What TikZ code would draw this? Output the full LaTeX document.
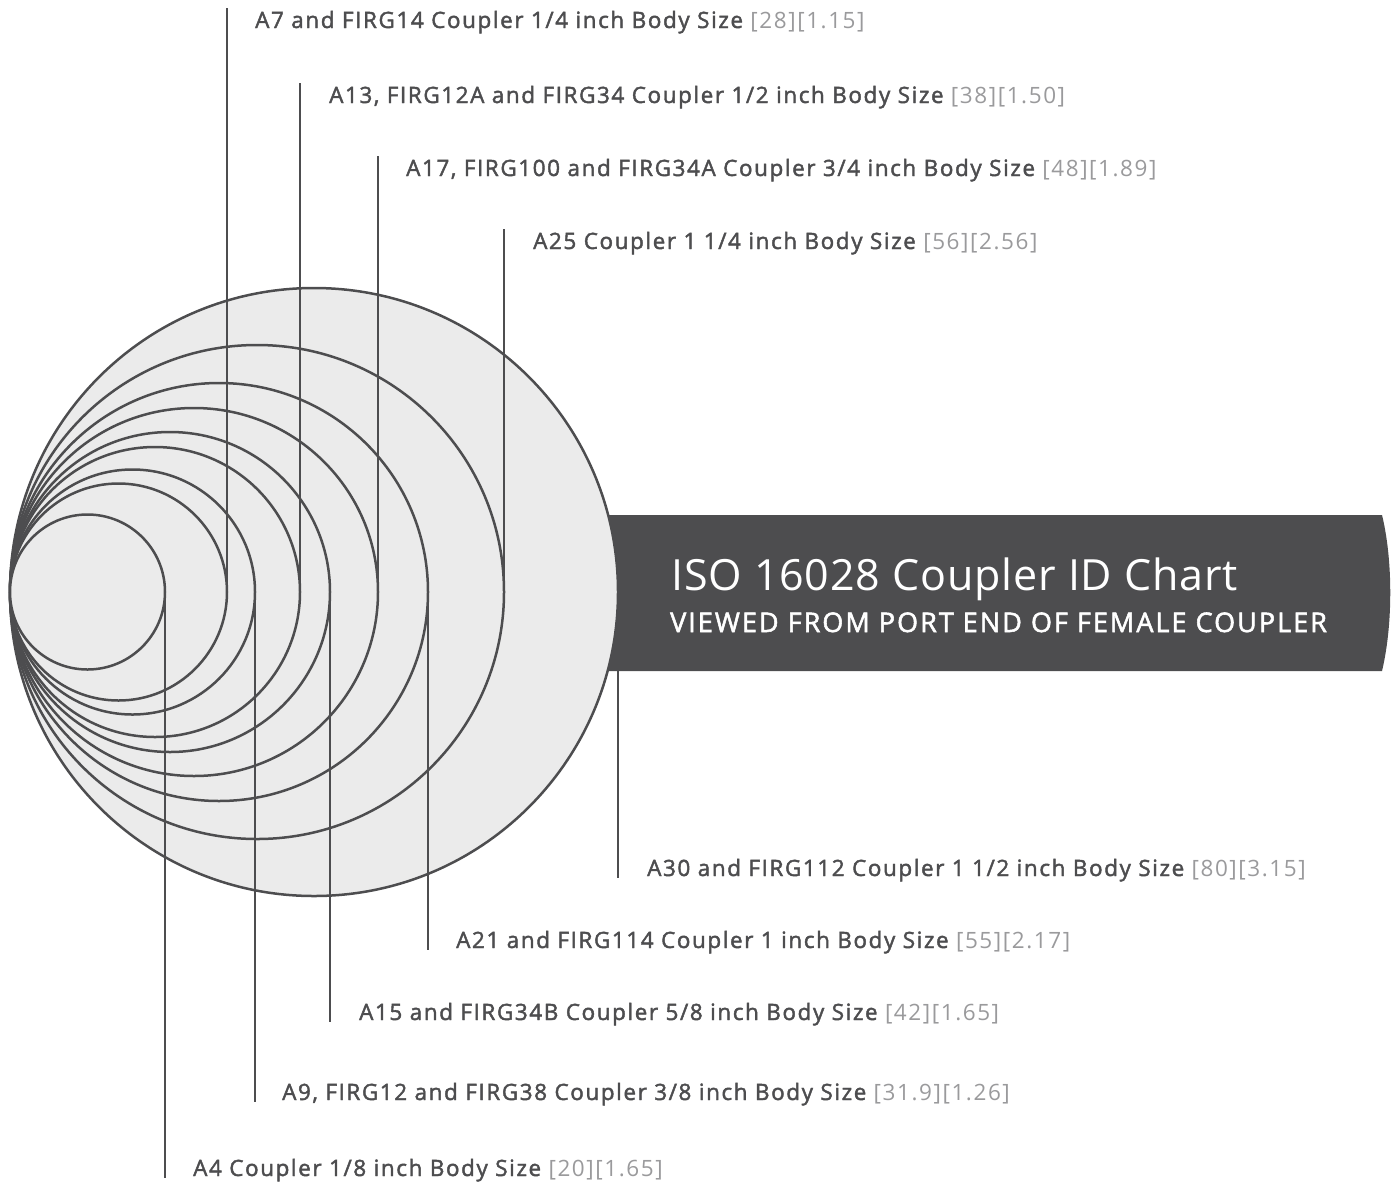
\documentclass[tikz,border=0pt]{standalone}
\usepackage{fontspec}
\setmainfont{Open Sans}
\newfontfamily\labelfont{Open Sans}[FakeBold=1.9,LetterSpace=7]
\newfontfamily\dimfont{Open Sans}[LetterSpace=7]
\newfontfamily\titlefont{Open Sans}[LetterSpace=2]
\newfontfamily\subfont{Open Sans}[FakeBold=2,LetterSpace=7.5]
\definecolor{ink}{HTML}{4D4D4F}
\definecolor{disc}{HTML}{EBEBEB}
\definecolor{dim}{HTML}{9A9A9C}
\tikzset{
  ring/.style={circle, draw=ink, fill=disc, line width=2.5pt, inner sep=0pt, outer sep=0pt, minimum size=#1},
  leader/.style={draw=ink, line width=2.5pt},
  lab/.style={anchor=base west, inner sep=0pt, text=ink, font=\labelfont\fontsize{22.5}{26}\selectfont},
}
\newcommand{\dimtxt}[1]{{\dimfont\color{dim}#1}}
\begin{document}
\begin{tikzpicture}[x=1pt,y=-1pt]
\useasboundingbox (0,0) rectangle (1391,1184);
% banner
\fill[ink] (590,515) -- (1382,515) .. controls (1393,560) and (1393,625) .. (1382,671) -- (590,671) -- cycle;
\node[anchor=base west, inner sep=0pt, text=white, font=\titlefont\fontsize{43}{48}\selectfont] (title) at (671,590) {ISO 16028 Coupler ID Chart};
\node[anchor=base west, inner sep=0pt, text=white, font=\subfont\fontsize{27}{30}\selectfont] (subtitle) at (670,632) {VIEWED FROM PORT END OF FEMALE COUPLER};
% circles, largest first
\node[ring=608pt] (c9) at (314,592) {};
\node[ring=494pt] (c8) at (257,592) {};
\node[ring=418pt] (c7) at (219,592) {};
\node[ring=368pt] (c6) at (194,592) {};
\node[ring=320pt] (c5) at (170,592) {};
\node[ring=290pt] (c4) at (155,592) {};
\node[ring=245pt] (c3) at (132.5,592) {};
\node[ring=217pt] (c2) at (118.5,592) {};
\node[ring=155pt] (c1) at (87.5,592) {};
% leader ends
\coordinate (e2) at (227,8);
\coordinate (e4) at (300,83);
\coordinate (e6) at (378,156);
\coordinate (e8) at (504,229);
\coordinate (e9s) at (618,671);
\coordinate (e9) at (618,878);
\coordinate (e7) at (428,950);
\coordinate (e5) at (330,1022);
\coordinate (e3) at (255,1102);
\coordinate (e1) at (165,1178);
\draw[leader] (c2.east) -- (e2);
\draw[leader] (c4.east) -- (e4);
\draw[leader] (c6.east) -- (e6);
\draw[leader] (c8.east) -- (e8);
\draw[leader] (e9s) -- (e9);
\draw[leader] (c7.east) -- (e7);
\draw[leader] (c5.east) -- (e5);
\draw[leader] (c3.east) -- (e3);
\draw[leader] (c1.east) -- (e1);
% labels
\node[lab] (l2) at (255,28) {A7 and FIRG14 Coupler 1/4 inch Body Size \dimtxt{[28][1.15]}};
\node[lab] (l4) at (329,103) {A13, FIRG12A and FIRG34 Coupler 1/2 inch Body Size \dimtxt{[38][1.50]}};
\node[lab] (l6) at (406,176) {A17, FIRG100 and FIRG34A Coupler 3/4 inch Body Size \dimtxt{[48][1.89]}};
\node[lab] (l8) at (533,249) {A25 Coupler 1 1/4 inch Body Size \dimtxt{[56][2.56]}};
\node[lab] (l9) at (647,876) {A30 and FIRG112 Coupler 1 1/2 inch Body Size \dimtxt{[80][3.15]}};
\node[lab] (l7) at (456,948) {A21 and FIRG114 Coupler 1 inch Body Size \dimtxt{[55][2.17]}};
\node[lab] (l5) at (359,1020) {A15 and FIRG34B Coupler 5/8 inch Body Size \dimtxt{[42][1.65]}};
\node[lab] (l3) at (282,1100) {A9, FIRG12 and FIRG38 Coupler 3/8 inch Body Size \dimtxt{[31.9][1.26]}};
\node[lab] (l1) at (193,1176) {A4 Coupler 1/8 inch Body Size \dimtxt{[20][1.65]}};
\end{tikzpicture}
\end{document}
